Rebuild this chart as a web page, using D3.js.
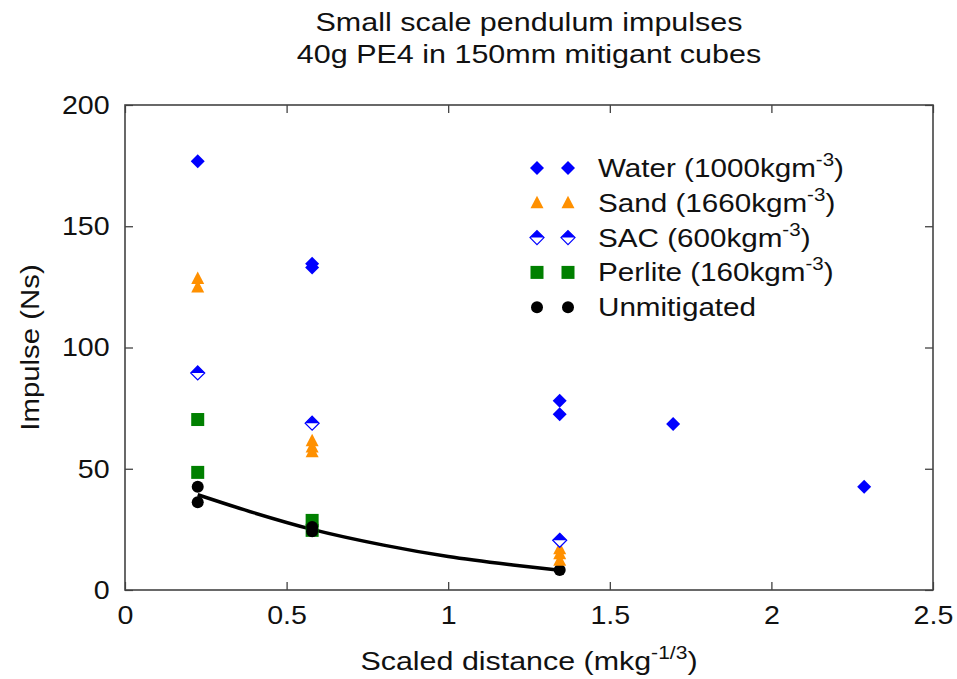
<!DOCTYPE html>
<html>
<head>
<meta charset="utf-8">
<script src="https://cdn.jsdelivr.net/npm/d3@7"></script>
<style>
  body { margin: 0; background: #fff; }
  text { font-family: "Liberation Sans", Arial, sans-serif; fill: #111; }
</style>
</head>
<body>
<script>
const w = 957;
const h = 679;
const margin = { left: 125, right: 24, top: 105, bottom: 89 };

// text is a bit wider than plain Arial in the reference
const sx = 1.1;

// ---- data ----
const waterX = [0.225, 0.579, 0.579, 1.345, 1.345, 1.696, 2.287];
const waterY = [176.8, 134.5, 133.0, 78.0, 72.5, 68.5, 42.6];

const sandX = [0.225, 0.225, 0.579, 0.579, 0.579, 1.345, 1.345, 1.345];
const sandY = [128.5, 125.0, 61.5, 59.0, 57.0, 17.0, 15.0, 12.3];

const sacX = [0.225, 0.579, 1.345];
const sacY = [89.5, 68.8, 20.5];

const perliteX = [0.225, 0.225, 0.579, 0.579];
const perliteY = [70.3, 48.5, 28.7, 24.6];

const unmitX = [0.225, 0.225, 0.579, 0.579, 1.345];
const unmitY = [42.6, 36.2, 26.0, 24.2, 8.2];

// fitted trend through the unmitigated points
const fitX = [0.225, 0.4, 0.579, 0.8, 1.0, 1.2, 1.345];
const fitY = [39.3, 31.8, 25.0, 18.5, 13.8, 10.3, 8.1];

const xTicks = [0, 0.5, 1, 1.5, 2, 2.5];
const yTicks = [0, 50, 100, 150, 200];

const seriesNames = ["Water", "Sand", "SAC", "Perlite", "Unmitigated"];
const seriesDensity = ["1000", "1660", "600", "160", ""];

const blue = "#0000ff";
const orange = "#ff9000";
const green = "#008000";

const svg = d3.select("body")
  .append("svg")
  .attr("width", w)
  .attr("height", h);

const xScale = d3.scaleLinear()
  .domain([0, 2.5])
  .range([margin.left, w - margin.right]);

const yScale = d3.scaleLinear()
  .domain([0, 200])
  .range([h - margin.bottom, margin.top]);

// ---- axes: ticks inward on all four sides ----
const tickLen = 8;
function styleAxis(g) {
  g.select(".domain").remove();
  g.selectAll(".tick line").attr("stroke", "#333").attr("stroke-width", 1.2);
  g.selectAll(".tick text")
    .style("font-size", "26px")
    .attr("fill", "#111");
}

const xAxis = svg.append("g")
  .attr("transform", `translate(0, ${h - margin.bottom})`)
  .call(d3.axisBottom(xScale).tickValues(xTicks).tickSize(-tickLen).tickPadding(16).tickFormat(d3.format("")));
styleAxis(xAxis);
xAxis.selectAll(".tick text").attr("transform", `scale(${sx},1)`);

svg.append("g")
  .attr("transform", `translate(0, ${margin.top})`)
  .call(d3.axisTop(xScale).tickValues(xTicks).tickSize(-tickLen).tickFormat(""))
  .call(styleAxis);

const yAxis = svg.append("g")
  .attr("transform", `translate(${margin.left}, 0)`)
  .call(d3.axisLeft(yScale).tickValues(yTicks).tickSize(-tickLen).tickPadding(14));
styleAxis(yAxis);
yAxis.selectAll(".tick text").attr("transform", `scale(${sx},1)`);

svg.append("g")
  .attr("transform", `translate(${w - margin.right}, 0)`)
  .call(d3.axisRight(yScale).tickValues(yTicks).tickSize(-tickLen).tickFormat(""))
  .call(styleAxis);

// frame
svg.append("rect")
  .attr("x", margin.left)
  .attr("y", margin.top)
  .attr("width", w - margin.left - margin.right)
  .attr("height", h - margin.top - margin.bottom)
  .attr("fill", "none")
  .attr("stroke", "#444")
  .attr("stroke-width", 1.6);

// ---- markers ----
const diamond = "M0,-7 L7,0 L0,7 L-7,0 Z";
function drawMarker(g, kind) {
  if (kind === "Water") {
    g.append("path").attr("d", diamond).attr("fill", blue);
  } else if (kind === "Sand") {
    g.append("path").attr("d", "M0,-7 L6.5,5.5 L-6.5,5.5 Z").attr("fill", orange);
  } else if (kind === "SAC") {
    g.append("path").attr("d", diamond).attr("fill", "#fff").attr("stroke", blue).attr("stroke-width", 1.2);
    g.append("path").attr("d", "M0,-7 L7,0 L-7,0 Z").attr("fill", blue);
  } else if (kind === "Perlite") {
    g.append("rect").attr("x", -6.5).attr("y", -6.5).attr("width", 13).attr("height", 13).attr("fill", green);
  } else {
    g.append("circle").attr("r", 6).attr("fill", "#000");
  }
}

function plotSeries(kind, xs, ys) {
  const pts = xs.map((x, i) => ({ x: x, y: ys[i] }));
  svg.append("g")
    .selectAll("g")
    .data(pts)
    .enter()
    .append("g")
    .attr("transform", d => `translate(${xScale(d.x)}, ${yScale(d.y)})`)
    .each(function () { drawMarker(d3.select(this), kind); });
}

// trend line
const fitLine = d3.line()
  .x(d => xScale(d.x))
  .y(d => yScale(d.y))
  .curve(d3.curveMonotoneX);
svg.append("path")
  .datum(fitX.map((x, i) => ({ x: x, y: fitY[i] })))
  .attr("d", fitLine)
  .attr("fill", "none")
  .attr("stroke", "#000")
  .attr("stroke-width", 3.5);

plotSeries("Perlite", perliteX, perliteY);
plotSeries("Unmitigated", unmitX, unmitY);
plotSeries("Sand", sandX, sandY);
plotSeries("SAC", sacX, sacY);
plotSeries("Water", waterX, waterY);

// ---- legend ----
const legend = svg.append("g")
  .selectAll("g")
  .data(seriesNames)
  .enter()
  .append("g")
  .attr("transform", (d, i) => `translate(0, ${168 + i * 34.8})`);

legend.each(function (d) {
  const g = d3.select(this);
  drawMarker(g.append("g").attr("transform", "translate(537,0)"), d);
  drawMarker(g.append("g").attr("transform", "translate(568,0)"), d);
});

legend.each(function (d, i) {
  const t = d3.select(this).append("text")
    .attr("transform", "translate(598, 9) scale(1.14,1)")
    .style("font-size", "26px");
  if (seriesDensity[i]) {
    t.append("tspan").text(d + " (" + seriesDensity[i] + "kgm");
    t.append("tspan").attr("dy", -11).style("font-size", "18px").text("-3");
    t.append("tspan").attr("dy", 11).text(")");
  } else {
    t.text(d);
  }
});

// ---- titles ----
const cx = (margin.left + w - margin.right) / 2;
svg.append("text")
  .attr("transform", `translate(${cx}, 31) scale(1.22,1)`)
  .attr("text-anchor", "middle")
  .style("font-size", "25px")
  .text("Small scale pendulum impulses");
svg.append("text")
  .attr("transform", `translate(${cx}, 63) scale(1.22,1)`)
  .attr("text-anchor", "middle")
  .style("font-size", "25px")
  .text("40g PE4 in 150mm mitigant cubes");

const xl = svg.append("text")
  .attr("transform", `translate(${cx}, 670) scale(1.17,1)`)
  .attr("text-anchor", "middle")
  .style("font-size", "26px");
xl.append("tspan").text("Scaled distance (mkg");
xl.append("tspan").attr("dy", -11).style("font-size", "18px").text("-1/3");
xl.append("tspan").attr("dy", 11).text(")");

svg.append("text")
  .attr("transform", `translate(39, ${(margin.top + h - margin.bottom) / 2}) rotate(-90) scale(1.13,1)`)
  .attr("text-anchor", "middle")
  .style("font-size", "26px")
  .text("Impulse (Ns)");
</script>
</body>
</html>
